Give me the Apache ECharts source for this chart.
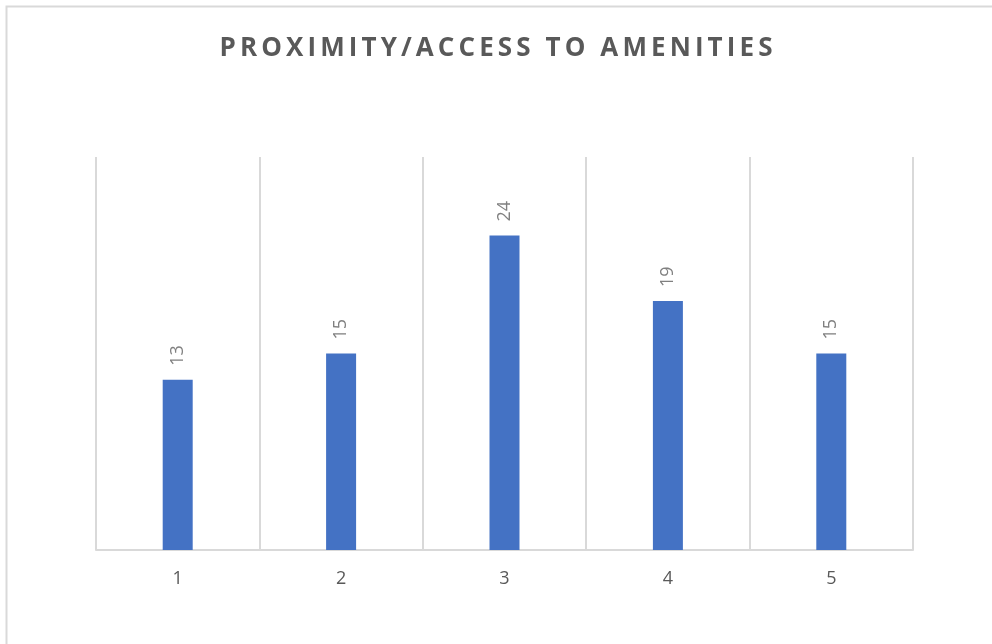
<!DOCTYPE html>
<html>
<head>
<meta charset="utf-8">
<style>
  html, body { margin: 0; padding: 0; background: #fff; }
  #chart { width: 992px; height: 644px; }
</style>
<script src="https://cdn.jsdelivr.net/npm/echarts@6/dist/echarts.min.js"></script>
</head>
<body>
<div id="chart"></div>
<script>
// Ratings 1–5 and how many responses each received
const categories = ['1', '2', '3', '4', '5'];
const counts = [13, 15, 24, 19, 15];
const chartTitle = 'PROXIMITY/ACCESS TO AMENITIES';

const FONT = '"Open Sans", "DejaVu Sans", sans-serif';

// Wrap every character in its own rich-text token so the title can be letter-spaced
const spacedTitle = chartTitle.split('').map(ch => '{c|' + ch + '}').join('');

const chart = echarts.init(document.getElementById('chart'), null, { renderer: 'canvas' });

chart.setOption({
  backgroundColor: '#ffffff',
  animation: false,
  title: {
    text: spacedTitle,
    left: 'center',
    top: 31,
    textStyle: {
      fontFamily: FONT,
      fontSize: 26,
      fontWeight: 'bold',
      color: '#595959',
      rich: {
        c: {
          fontFamily: FONT,
          fontSize: 26,
          fontWeight: 'bold',
          color: '#595959',
          padding: [0, 2.05, 0, 2.05]
        }
      }
    }
  },
  graphic: [{
    type: 'rect',
    silent: true,
    shape: { x: 6.5, y: 6.5, width: 1100, height: 1100 },
    style: { fill: 'none', stroke: '#d9d9d9', lineWidth: 2 }
  }],
  grid: { left: 96, right: 79, top: 157, bottom: 94 },
  xAxis: {
    type: 'category',
    data: categories,
    boundaryGap: true,
    axisLine: { show: true, lineStyle: { color: '#d9d9d9', width: 2 } },
    axisTick: { show: false },
    splitLine: { show: true, lineStyle: { color: '#d9d9d9', width: 2 } },
    axisLabel: {
      margin: 20,
      fontFamily: FONT,
      fontSize: 18,
      color: '#595959'
    }
  },
  yAxis: {
    type: 'value',
    min: 0,
    max: 30,
    interval: 5,
    show: false,
    splitLine: { show: false }
  },
  series: [{
    type: 'bar',
    data: counts,
    barWidth: 30,
    itemStyle: { color: '#4472c4' },
    label: {
      show: true,
      position: 'top',
      rotate: 90,
      align: 'left',
      verticalAlign: 'middle',
      distance: 14,
      fontFamily: FONT,
      fontSize: 18,
      color: '#808080'
    }
  }]
});
</script>
</body>
</html>
